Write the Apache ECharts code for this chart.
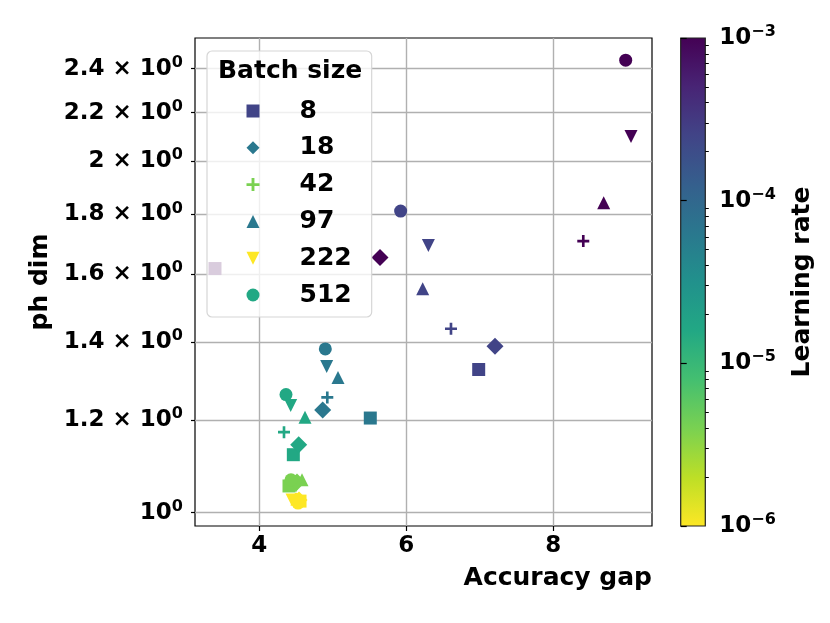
<!DOCTYPE html>
<html>
<head>
<meta charset="utf-8">
<script src="https://cdn.jsdelivr.net/npm/echarts@6/dist/echarts.min.js"></script>
<style>html,body{margin:0;padding:0;background:#fff}#c{width:830px;height:623px}</style>
</head>
<body>
<div id="c"></div>
<script>
// ---- data ----
const batchSizes = ['8', '18', '42', '97', '222', '512'];
const learningRates = [1e-3, 2.512e-4, 6.31e-5, 1.585e-5, 3.981e-6, 1e-6];
// values per batch size, in the order of learningRates
const accGap8   = [3.397, 6.985, 5.510, 4.463, 4.404, 4.554];
const phDim8    = [1.618, 1.326, 1.205, 1.121, 1.054, 1.023];
const accGap18  = [5.642, 7.207, 4.862, 4.536, 4.513, 4.540];
const phDim18   = [1.654, 1.388, 1.224, 1.143, 1.062, 1.025];
const accGap42  = [8.408, 6.608, 4.925, 4.336, 4.472, 4.500];
const phDim42   = [1.708, 1.437, 1.255, 1.172, 1.064, 1.027];
const accGap97  = [8.686, 6.223, 5.071, 4.622, 4.581, 4.510];
const phDim97   = [1.842, 1.555, 1.305, 1.207, 1.067, 1.027];
const accGap222 = [9.057, 6.300, 4.917, 4.427, 4.499, 4.445];
const phDim222  = [2.099, 1.693, 1.334, 1.235, 1.054, 1.025];
const accGap512 = [8.985, 5.923, 4.898, 4.363, 4.431, 4.527];
const phDim512  = [2.440, 1.812, 1.381, 1.262, 1.067, 1.019];
const xTicks = [4, 6, 8];
const yTicks = [1, 1.2, 1.4, 1.6, 1.8, 2, 2.2, 2.4];
const cbMajorTicks = [1e-6, 1e-5, 1e-4, 1e-3];
const cbMinorTicks = [2e-6,3e-6,4e-6,5e-6,6e-6,7e-6,8e-6,9e-6,
                      2e-5,3e-5,4e-5,5e-5,6e-5,7e-5,8e-5,9e-5,
                      2e-4,3e-4,4e-4,5e-4,6e-4,7e-4,8e-4,9e-4];

// ---- styles ----
const accGaps = [accGap8, accGap18, accGap42, accGap97, accGap222, accGap512];
const phDims  = [phDim8, phDim18, phDim42, phDim97, phDim222, phDim512];
const symbols = ['rect', 'diamond', 'path://M3.9,0H6.1V3.9H10V6.1H6.1V10H3.9V6.1H0V3.9H3.9Z',
                 'triangle', 'path://M0,0L10,0L5,10Z', 'circle'];
const symbolSizes = [13, 17, 12, 13, 13, 13];
const legendColors = ['#414487', '#2a788e', '#7ad151', '#2a788e', '#fde725', '#22a884'];
const viridis = ['#440154','#482475','#414487','#355f8d','#2a788e','#21918c',
                 '#22a884','#44bf70','#7ad151','#bddf26','#fde725'];
const FONT = 'DejaVu Sans';
const richLabel = {
  b: { fontFamily: FONT, fontWeight: 'bold', fontSize: 23, color: '#000' },
  s: { fontFamily: FONT, fontWeight: 'bold', fontSize: 16, color: '#000', padding: [0, 0, 12, 0] }
};

const series = batchSizes.map((b, i) => ({
  name: b,
  type: 'scatter',
  xAxisIndex: 0, yAxisIndex: 0,
  symbol: symbols[i],
  symbolSize: symbolSizes[i],
  itemStyle: { color: legendColors[i], opacity: 1 },
  data: learningRates.map((lr, k) => [accGaps[i][k], phDims[i][k], Math.log10(lr)]),
  z: 3
}));

const chart = echarts.init(document.getElementById('c'), null, { renderer: 'canvas' });
chart.setOption({
  animation: false,
  backgroundColor: '#fff',
  textStyle: { fontFamily: FONT, fontWeight: 'bold' },
  title: {
    text: 'Batch size', left: 218, top: 56, padding: 0, z: 10,
    textStyle: { fontFamily: FONT, fontWeight: 'bold', fontSize: 25, color: '#000', lineHeight: 30 }
  },
  legend: {
    orient: 'vertical', left: 207, top: 51,
    padding: [45, 20, 7, 39.5],
    itemWidth: 13, itemHeight: 13, itemGap: 6.8,
    backgroundColor: 'rgba(255,255,255,0.8)',
    borderColor: '#d6d6d6', borderWidth: 1.2, borderRadius: 5,
    data: batchSizes,
    textStyle: { fontFamily: FONT, fontWeight: 'bold', fontSize: 25, color: '#000',
                 lineHeight: 30, padding: [0, 0, 0, 35] },
    selectedMode: false
  },
  visualMap: {
    type: 'continuous', show: false, dimension: 2, min: -6, max: -3,
    seriesIndex: [0, 1, 2, 3, 4, 5],
    inRange: { color: viridis.slice().reverse() }
  },
  grid: [
    { left: 195, right: 178, top: 38, bottom: 97, show: true,
      borderColor: '#000', borderWidth: 1.2, backgroundColor: 'transparent' },
    { left: 680.7, width: 24.6, top: 38, bottom: 97, show: true,
      borderColor: '#222', borderWidth: 1.2,
      backgroundColor: { type: 'linear', x: 0, y: 0, x2: 0, y2: 1,
        colorStops: viridis.map((c, i) => ({ offset: i / (viridis.length - 1), color: c })) } }
  ],
  xAxis: [
    { type: 'value', gridIndex: 0, min: 3.125, max: 9.343,
      name: 'Accuracy gap', nameLocation: 'end', nameGap: 0,
      nameTextStyle: { fontFamily: FONT, fontWeight: 'bold', fontSize: 25, color: '#000',
                       align: 'right', verticalAlign: 'top', padding: [40, 0, 0, 0] },
      axisLine: { show: false },
      axisTick: { show: true, length: 5, customValues: xTicks, lineStyle: { color: '#000', width: 1.2 } },
      axisLabel: { customValues: xTicks, margin: 9, fontFamily: FONT, fontWeight: 'bold', fontSize: 23, color: '#000' },
      splitLine: { show: true, customValues: xTicks, lineStyle: { color: '#b0b0b0', width: 1.4 } }
    },
    { type: 'value', gridIndex: 1, min: 0, max: 1, show: false }
  ],
  yAxis: [
    { type: 'log', gridIndex: 0, min: 0.974, max: 2.549,
      name: 'ph dim', nameLocation: 'middle', nameGap: 140,
      nameTextStyle: { fontFamily: FONT, fontWeight: 'bold', fontSize: 25, color: '#000' },
      axisLine: { show: false },
      axisTick: { show: true, length: 4, customValues: yTicks, lineStyle: { color: '#000', width: 1.2 } },
      axisLabel: { customValues: yTicks, margin: 12, color: '#000', rich: richLabel,
        formatter: v => { const n = Number(Number(v).toFixed(1));
          return n === 1 ? '{b|10}{s|0}' : '{b|' + n + ' \u00D7 10}{s|0}'; } },
      splitLine: { show: true, customValues: yTicks, lineStyle: { color: '#b0b0b0', width: 1.4 } },
      minorTick: { show: false }, minorSplitLine: { show: false }
    },
    { type: 'log', gridIndex: 1, min: 1e-6, max: 1e-3, position: 'right',
      name: 'Learning rate', nameLocation: 'middle', nameGap: 85,
      nameTextStyle: { fontFamily: FONT, fontWeight: 'bold', fontSize: 25, color: '#000' },
      axisLine: { show: false },
      axisTick: { show: true, length: 6, customValues: cbMajorTicks, lineStyle: { color: '#000', width: 1.2 } },
      axisLabel: { customValues: cbMajorTicks, margin: 14, color: '#000', rich: richLabel,
        formatter: v => '{b|10}{s|\u2212' + Math.abs(Math.round(Math.log10(v))) + '}' },
      splitLine: { show: false }
    },
    { type: 'log', gridIndex: 1, min: 1e-6, max: 1e-3, position: 'right',
      axisLine: { show: false },
      axisTick: { show: true, length: 3.5, customValues: cbMinorTicks, lineStyle: { color: '#000', width: 1 } },
      axisLabel: { show: false },
      splitLine: { show: false }
    }
  ],
  series: series
});
</script>
</body>
</html>
